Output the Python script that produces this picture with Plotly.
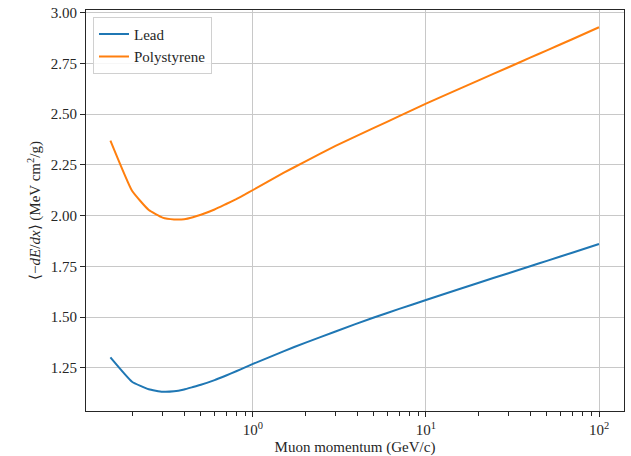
import plotly.graph_objects as go

# Mean muon energy loss vs momentum
momentum = [0.15, 0.2, 0.25, 0.3, 0.35, 0.4, 0.45, 0.5, 0.6, 0.7, 0.8, 0.9, 1.0, 1.5, 2,
            3, 5, 7, 10, 15, 20, 30, 40, 50, 70, 100]
lead = [1.301, 1.181, 1.144, 1.132, 1.134, 1.143, 1.155, 1.166, 1.189, 1.212, 1.233,
        1.252, 1.269, 1.331, 1.373, 1.429, 1.498, 1.540, 1.584, 1.633, 1.668, 1.716,
        1.750, 1.777, 1.817, 1.860]
polystyrene = [2.369, 2.122, 2.027, 1.990, 1.981, 1.982, 1.992, 2.004, 2.030, 2.057,
               2.081, 2.104, 2.126, 2.210, 2.266, 2.343, 2.432, 2.490, 2.552, 2.618,
               2.665, 2.731, 2.778, 2.814, 2.869, 2.928]

y_ticks = [1.25, 1.50, 1.75, 2.00, 2.25, 2.50, 2.75, 3.00]
x_ticks = [1, 10, 100]
x_tick_text = ["10<sup>0</sup>", "10<sup>1</sup>", "10<sup>2</sup>"]
x_minor = [m * 10 ** e for e in (-1, 0, 1, 2) for m in range(2, 10)]

FONT = "Liberation Serif"
INK = "#262626"

fig = go.Figure()
fig.add_trace(go.Scatter(x=momentum, y=lead, mode="lines", name="Lead",
                         line=dict(color="#1f77b4", width=2, shape="spline", smoothing=0.4)))
fig.add_trace(go.Scatter(x=momentum, y=polystyrene, mode="lines", name="Polystyrene",
                         line=dict(color="#ff7f0e", width=2, shape="spline", smoothing=0.4)))

fig.update_layout(
    width=631, height=456,
    margin=dict(l=86, r=7, t=10, b=45),
    paper_bgcolor="white", plot_bgcolor="white",
    font=dict(family=FONT, size=15, color=INK),
    showlegend=True,
    legend=dict(x=0.013, y=0.983, xanchor="left", yanchor="top",
                bgcolor="rgba(255,255,255,0.85)", bordercolor="#d0d0d0", borderwidth=1,
                font=dict(family=FONT, size=15, color=INK),
                tracegroupgap=0, itemwidth=30),
)

fig.update_xaxes(
    type="log", range=[-0.965, 2.1445], automargin=False,
    tickvals=x_ticks, ticktext=x_tick_text,
    ticks="outside", ticklen=5, tickwidth=1, tickcolor=INK,
    minor=dict(tickvals=[v for v in x_minor if 0.1 <= v <= 140], ticks="outside",
               ticklen=3.5, tickwidth=1, tickcolor=INK, showgrid=False),
    showgrid=True, gridcolor="#c8c8c8", gridwidth=1,
    showline=True, linecolor=INK, linewidth=1, mirror=True,
    zeroline=False,
    title=dict(text="Muon momentum (GeV/c)", font=dict(family=FONT, size=15), standoff=10),
)
fig.update_yaxes(
    range=[1.037, 3.013], automargin=False,
    tickvals=y_ticks, ticktext=[f"{v:.2f}" for v in y_ticks],
    ticks="outside", ticklen=5, tickwidth=1, tickcolor=INK,
    showgrid=True, gridcolor="#c8c8c8", gridwidth=1,
    showline=True, linecolor=INK, linewidth=1, mirror=True,
    zeroline=False,
    title=dict(text="⟨−<i>dE</i>/<i>dx</i>⟩ (MeV cm<sup>2</sup>/g)",
               font=dict(family=FONT, size=15), standoff=6),
)

fig.write_html("out.html")
